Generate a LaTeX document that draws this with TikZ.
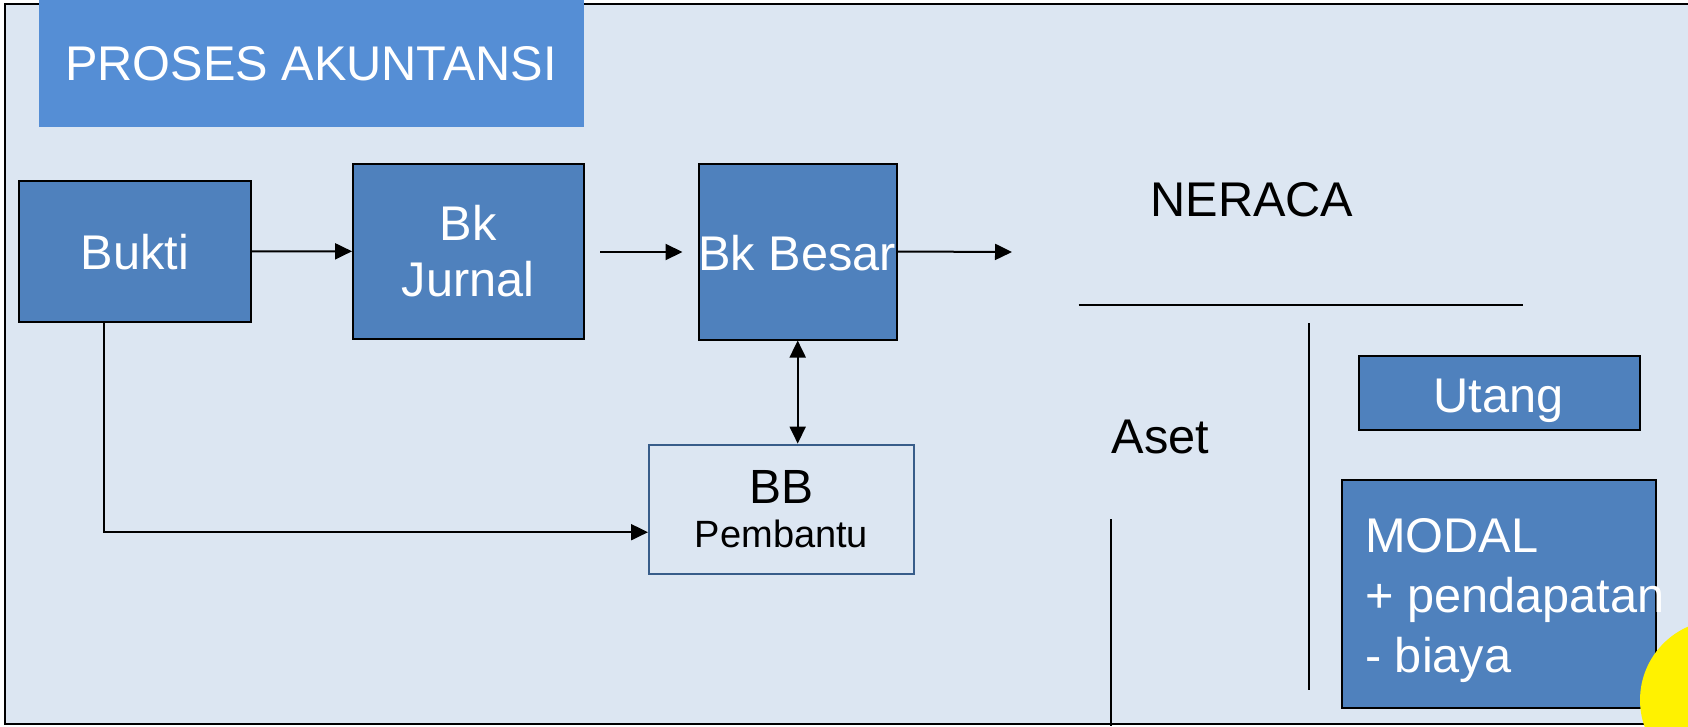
\documentclass[tikz,border=0pt]{standalone}
\usepackage{fontspec}
\setmainfont{Liberation Sans}
\usetikzlibrary{arrows.meta}
\definecolor{bg}{HTML}{DCE6F2}
\definecolor{titleblue}{HTML}{558ED5}
\definecolor{boxblue}{HTML}{4F81BD}
\definecolor{bbborder}{HTML}{385D8A}
\begin{document}
\begin{tikzpicture}[x=1pt,y=-1pt,
  bigtext/.style={font=\fontsize{48.7}{56}\selectfont},
  bluebox/.style={draw=black, line width=2pt, fill=boxblue, text=white, inner sep=0pt, text depth=0pt, bigtext},
  conn/.style={line width=2pt, draw=black},
  arr/.style={conn, -{Triangle[length=17pt,width=16pt]}},
  dbl/.style={conn, {Triangle[length=17pt,width=16pt]}-{Triangle[length=17pt,width=16pt]}},
  tline/.style={line width=2pt, draw=black},
]
\useasboundingbox (0,0) rectangle (1688,726);
\fill[white] (0,0) rectangle (1688,726);
\fill[bg] (5,4) rectangle (1688,724);
\draw[line width=2.5pt] (1700,4) -- (5,4) -- (5,724) -- (1700,724);

% title
\node[fill=titleblue, text=white, bigtext, minimum width=545pt, minimum height=127pt, inner sep=0pt] (title) at (311,63.5) {PROSES AKUNTANSI};

% process boxes
\node[bluebox, minimum width=231.4pt, minimum height=141pt] (bukti) at (135.1,251.4) {Bukti};
\node[bluebox, minimum width=230.5pt, minimum height=175.4pt, align=center] (jurnal) at (468.3,251.3) {Bk\\Jurnal};
\node[bluebox, minimum width=198pt, minimum height=176pt] (besar) at (797.7,251.5) {};
\node[text=white, bigtext, inner sep=0pt] (besarlbl) at (797,253) {Bk Besar};
\node[draw=bbborder, line width=2pt, fill=bg, minimum width=265pt, minimum height=129.2pt, inner sep=0pt, align=center] (bb) at (781.5,509.2)
  {\fontsize{48}{49}\selectfont BB\\[16pt]\fontsize{38}{49}\selectfont Pembantu};

% connectors
\draw[arr] (bukti.east) -- (jurnal.west);
\coordinate (fa) at (600,252);
\coordinate (fb) at (682.5,252);
\draw[arr] (fa) -- (fb);
\coordinate (outend) at (1012,252);
\draw[arr] (besar.east) -- (outend);
\draw[dbl] (besar.south) -- (besar.south |- bb.north);
\draw[arr] ([xshift=-30.7pt]bukti.south) |- ([yshift=-23pt]bb.west);

% neraca
\node[bigtext, inner sep=0pt] (neraca) at (1252,199.5) {NERACA};
\coordinate (h1) at (1078.7,304.6);
\coordinate (h2) at (1523,304.6);
\draw[tline] (h1) -- (h2);
\coordinate (v1) at (1309,323);
\coordinate (v2) at (1309,690);
\draw[tline] (v1) -- (v2);
\coordinate (w1) at (1111,519);
\coordinate (w2) at (1111,726);
\draw[tline] (w1) -- (w2);
\node[bigtext, inner sep=0pt, text depth=0pt] (aset) at (1160.5,437) {Aset};
\node[bluebox, minimum width=281pt, minimum height=73.2pt] (utang) at (1499,392.9) {};
\node[text=white, bigtext, inner sep=0pt, text depth=0pt] (utanglbl) at (1498.5,396) {Utang};
\node[bluebox, minimum width=313.3pt, minimum height=228.3pt] (modal) at (1499,594.2) {};
\node[text=white, inner sep=0pt, anchor=west, align=left, font=\fontsize{48.7}{60}\selectfont] (modallbl) at (1365,601)
  {MODAL\\+ pendapatan\\- biaya};

% yellow blob
\begin{scope}
\clip (0,0) rectangle (1688,726);
\fill[yellow] (1720,700) circle (80pt);
\end{scope}
\end{tikzpicture}
\end{document}
